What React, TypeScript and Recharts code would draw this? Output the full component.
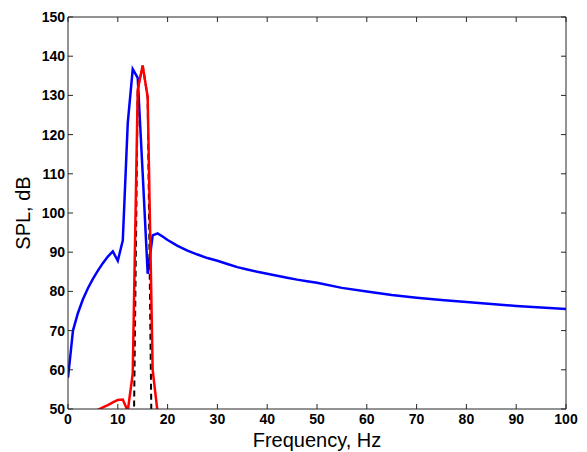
import { LineChart, Line, XAxis, YAxis, ReferenceLine } from "recharts";

// blue: SPL vs frequency
const BLUE_F = [0, 1, 2, 3, 4, 5, 6, 7, 8, 9, 10, 11, 12, 13, 14, 15, 16, 17, 18, 19, 20, 22, 24, 26, 28, 30, 32, 34, 36, 38, 40, 42, 44, 46, 48, 50, 55, 60, 65, 70, 75, 80, 85, 90, 95, 100];
const BLUE_SPL = [58, 70, 74.5, 78, 80.8, 83.2, 85.3, 87.2, 88.9, 90.2, 87.8, 93, 123, 136.7, 134.5, 110, 84.5, 94.3, 94.8, 94.0, 93.1, 91.6, 90.4, 89.4, 88.5, 87.8, 87.0, 86.2, 85.6, 85.0, 84.5, 84.0, 83.5, 83.0, 82.6, 82.2, 80.9, 80.0, 79.1, 78.4, 77.8, 77.3, 76.8, 76.3, 75.9, 75.5];

// red: narrow band
const RED_F = [4, 5, 6, 7, 8, 9, 10, 11, 12, 13, 14, 15, 16, 17, 18];
const RED_SPL = [48.6, 49.2, 49.8, 50.4, 51.0, 51.7, 52.3, 52.4, 49.5, 59, 131.5, 137.6, 129.5, 60, 49];

// black dashed
const BLACK_F = [13, 14, 15, 16, 17];
const BLACK_SPL = [20, 131.5, 137.6, 129.5, 20];

const X_TICKS = [0, 10, 20, 30, 40, 50, 60, 70, 80, 90, 100];
const Y_TICKS = [50, 60, 70, 80, 90, 100, 110, 120, 130, 140, 150];

const toRows = (fs: number[], vals: number[]) => fs.map((f, i) => ({ f, spl: vals[i] }));
const blueData = toRows(BLUE_F, BLUE_SPL);
const redData = toRows(RED_F, RED_SPL);
const blackData = toRows(BLACK_F, BLACK_SPL);

const W = 587;
const H = 452;
const PLOT_LEFT = 68;
const PLOT_RIGHT = 566;
const PLOT_TOP = 17;
const PLOT_BOTTOM = 409;
const TICK_LEN = 5;
const AXIS_COLOR = "#262626";
const FONT = "'Liberation Sans', Arial, Helvetica, sans-serif";

function XTick({ x, payload }: { x?: number; payload?: { value: number } }) {
  if (x == null || !payload) return null;
  return (
    <g>
      <line x1={x} x2={x} y1={PLOT_BOTTOM} y2={PLOT_BOTTOM - TICK_LEN} stroke={AXIS_COLOR} />
      <line x1={x} x2={x} y1={PLOT_TOP} y2={PLOT_TOP + TICK_LEN} stroke={AXIS_COLOR} />
      <text x={x} y={PLOT_BOTTOM + 15} textAnchor="middle" fontSize={14} fontWeight="bold" fontFamily={FONT} fill="#000">
        {payload.value}
      </text>
    </g>
  );
}

function YTick({ y, payload }: { y?: number; payload?: { value: number } }) {
  if (y == null || !payload) return null;
  return (
    <g>
      <line x1={PLOT_LEFT} x2={PLOT_LEFT + TICK_LEN} y1={y} y2={y} stroke={AXIS_COLOR} />
      <line x1={PLOT_RIGHT} x2={PLOT_RIGHT - TICK_LEN} y1={y} y2={y} stroke={AXIS_COLOR} />
      <text x={PLOT_LEFT - 3} y={y + 5} textAnchor="end" fontSize={14} fontWeight="bold" fontFamily={FONT} fill="#000">
        {payload.value}
      </text>
    </g>
  );
}

export default function App() {
  return (
    <div style={{ position: "fixed", left: 0, top: 0, background: "#fff" }}>
      <LineChart
        width={W}
        height={H}
        margin={{ top: PLOT_TOP, right: W - PLOT_RIGHT, bottom: 0, left: 0 }}
      >
        <XAxis
          type="number"
          dataKey="f"
          domain={[0, 100]}
          ticks={X_TICKS}
          allowDataOverflow
          height={H - PLOT_BOTTOM}
          tickLine={false}
          axisLine={{ stroke: AXIS_COLOR }}
          tick={<XTick />}
          label={{
            content: () => (
              <text x={(PLOT_LEFT + PLOT_RIGHT) / 2} y={447} textAnchor="middle" fontSize={20} fontFamily={FONT} fill="#000">
                Frequency, Hz
              </text>
            ),
          }}
        />
        <YAxis
          type="number"
          dataKey="spl"
          domain={[50, 150]}
          ticks={Y_TICKS}
          allowDataOverflow
          width={PLOT_LEFT}
          tickLine={false}
          axisLine={{ stroke: AXIS_COLOR }}
          tick={<YTick />}
          label={{
            content: () => (
              <text
                x={30}
                y={(PLOT_TOP + PLOT_BOTTOM) / 2}
                transform={`rotate(-90 30 ${(PLOT_TOP + PLOT_BOTTOM) / 2})`}
                textAnchor="middle"
                fontSize={20}
                fontFamily={FONT}
                fill="#000"
              >
                SPL, dB
              </text>
            ),
          }}
        />
        <ReferenceLine y={150} stroke={AXIS_COLOR} />
        <ReferenceLine x={100} stroke={AXIS_COLOR} />
        <Line data={blueData} dataKey="spl" stroke="#0000ff" strokeWidth={2.5} dot={false} isAnimationActive={false} />
        <Line data={blackData} dataKey="spl" stroke="#000" strokeWidth={2} strokeDasharray="6 4" dot={false} isAnimationActive={false} />
        <Line data={redData} dataKey="spl" stroke="#ff0000" strokeWidth={2.5} dot={false} isAnimationActive={false} />
      </LineChart>
    </div>
  );
}
